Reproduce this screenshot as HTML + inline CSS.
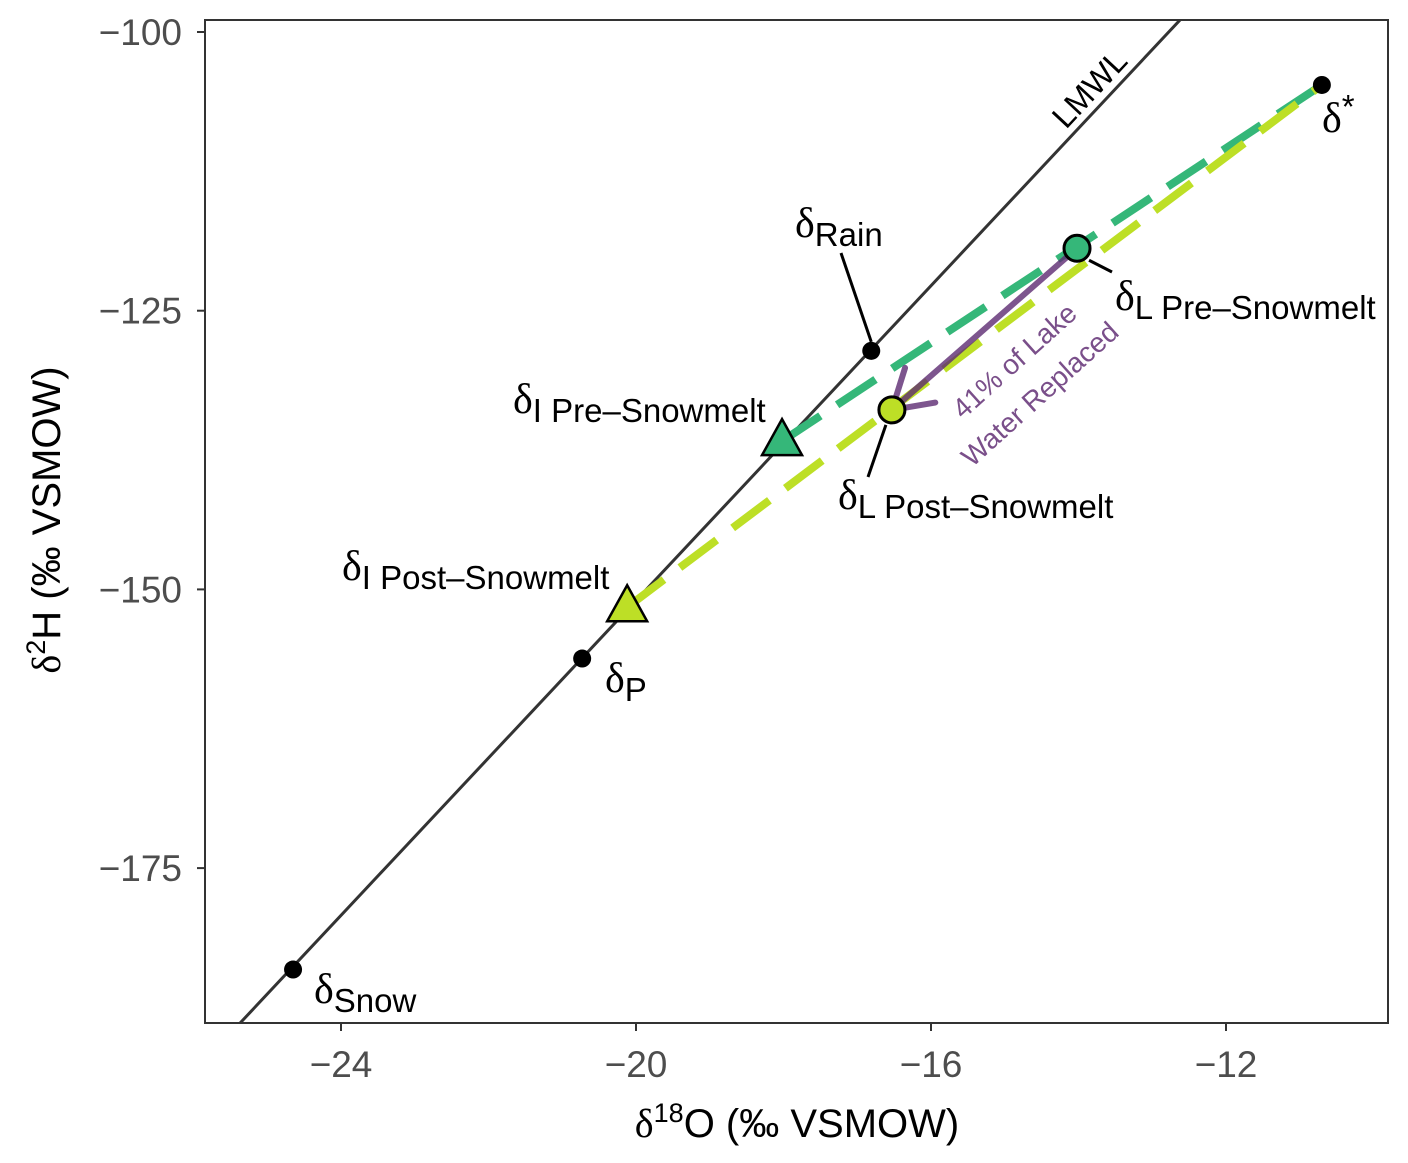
<!DOCTYPE html>
<html><head><meta charset="utf-8"><style>
html,body{margin:0;padding:0;background:#fff}
svg{display:block;font-family:"Liberation Sans",Arial,sans-serif}
.d{font-family:"Liberation Serif",serif}
</style></head><body>
<svg id="chart" width="1408" height="1163" viewBox="0 0 1408 1163">
<defs>
<clipPath id="clip"><rect x="205" y="20" width="1183" height="1003"/></clipPath>
</defs>
<rect x="205" y="20" width="1183" height="1003" fill="#fff" stroke="#333" stroke-width="2"/>
<g id="axes"></g>
<g id="marks" clip-path="url(#clip)"></g>
<g id="labels"></g>
<text x="797" y="1137" font-size="40" text-anchor="middle" fill="#000"><tspan class="d">δ</tspan><tspan font-size="27" dy="-15">18</tspan><tspan dy="15">O (‰ VSMOW)</tspan></text>
<text transform="translate(60,520) rotate(-90)" font-size="40" text-anchor="middle" fill="#000"><tspan class="d">δ</tspan><tspan font-size="27" dy="-15">2</tspan><tspan dy="15">H (‰ VSMOW)</tspan></text>
</svg>
<script>
const xTicks=[-24,-20,-16,-12];
const yTicks=[-100,-125,-150,-175];
const pointNames=["snow","p","rain","star"];
const pointX=[-24.65,-20.73,-16.81,-10.70];
const pointY=[-184.1,-156.2,-128.6,-104.75];
const inflowX=[-18.02,-20.12];
const inflowY=[-136.7,-151.6];
const lakeX=[-14.02,-16.53];
const lakeY=[-119.4,-133.9];
const lmwlX=[-25.5,-12.5];
const lmwlSlope=7.06, lmwlIntercept=-9.8;
const colors=["#35b779","#bddf26"];

const X=v=>341+(v+24)*73.75;
const Y=v=>32-(v+100)*11.148;
const NS="http://www.w3.org/2000/svg";
function mk(tag,attrs,parent){const e=document.createElementNS(NS,tag);for(const k in attrs)e.setAttribute(k,attrs[k]);parent.appendChild(e);return e;}
const axes=document.getElementById('axes'),marks=document.getElementById('marks');

xTicks.forEach(t=>{
  const l=mk('line',{x1:X(t),x2:X(t),y1:1023,y2:1031,stroke:'#333','stroke-width':2},axes);
  
  
  const tx=mk('text',{x:X(t),y:1077,'font-size':37,'text-anchor':'middle',fill:'#4d4d4d'},axes);
  tx.textContent='\u2212'+Math.abs(t);
  
  
});
yTicks.forEach(t=>{
  const l=mk('line',{x1:197,x2:205,y1:Y(t),y2:Y(t),stroke:'#333','stroke-width':2},axes);
  
  
  const tx=mk('text',{x:182,y:Y(t)+13,'font-size':37,'text-anchor':'end',fill:'#4d4d4d'},axes);
  tx.textContent='\u2212'+Math.abs(t);
  
  
});

const lm=mk('line',{x1:X(lmwlX[0]),y1:Y(lmwlSlope*lmwlX[0]+lmwlIntercept),x2:X(lmwlX[1]),y2:Y(lmwlSlope*lmwlX[1]+lmwlIntercept),stroke:'#333','stroke-width':3},marks);



for(let i=0;i<2;i++){
  const d=mk('line',{x1:X(inflowX[i]),y1:Y(inflowY[i]),x2:X(pointX[3]),y2:Y(pointY[3]),stroke:colors[i],'stroke-width':8,'stroke-dasharray':'46 20'},marks);
  
  
}
const ax1=X(lakeX[0]),ay1=Y(lakeY[0]),ax2=X(lakeX[1]),ay2=Y(lakeY[1]);
const ang=Math.atan2(ay2-ay1,ax2-ax1);
const head=(a)=>`M${ax2},${ay2} L${ax2+44*Math.cos(ang+Math.PI+a)},${ay2+44*Math.sin(ang+Math.PI+a)}`;
const ap=mk('path',{d:`M${ax1},${ay1} L${ax2},${ay2} ${head(0.55)} ${head(-0.55)}`,stroke:'#5d2a72','stroke-opacity':0.8,'stroke-width':6,fill:'none','stroke-linecap':'round'},marks);



pointNames.forEach((n,i)=>{
  const c=mk('circle',{cx:X(pointX[i]),cy:Y(pointY[i]),r:9,fill:'#000'},marks);
  
  
});
const lab=document.getElementById('labels');
function leader(x1,y1,x2,y2,name){const l=mk('line',{x1,y1,x2,y2,stroke:'#000','stroke-width':3},lab);}
leader(841,253,X(pointX[2]),Y(pointY[2])-9,'rain-leader');
leader(X(lakeX[0])+12,Y(lakeY[0])+12,1112,272,'lake-pre-leader');
leader(X(lakeX[1])-6,Y(lakeY[1])+15,868,477,'lake-post-leader');

for(let i=0;i<2;i++){
  const cx=X(inflowX[i]),cy=Y(inflowY[i]);
  const t=mk('polygon',{points:`${cx},${cy-22} ${cx-20},${cy+14} ${cx+20},${cy+14}`,fill:colors[i],stroke:'#000','stroke-width':2.5},lab);
  
  
}
for(let i=0;i<2;i++){
  const c=mk('circle',{cx:X(lakeX[i]),cy:Y(lakeY[i]),r:13,fill:colors[i],stroke:'#000','stroke-width':3},lab);
  
  
}
</script>
<svg style="position:absolute;left:0;top:0" width="1408" height="1163">
<g font-family="Liberation Sans, Arial, sans-serif" fill="#000">
<text x="314" y="1003" font-size="42"><tspan font-family="Liberation Serif">δ</tspan><tspan font-size="33" dy="9">Snow</tspan></text>
<text x="605" y="692" font-size="42"><tspan font-family="Liberation Serif">δ</tspan><tspan font-size="33" dy="9">P</tspan></text>
<text x="795" y="237" font-size="42"><tspan font-family="Liberation Serif">δ</tspan><tspan font-size="33" dy="9">Rain</tspan></text>
<text x="1322" y="132" font-size="42"><tspan font-family="Liberation Serif">δ</tspan><tspan font-size="33" dy="-14">*</tspan></text>
<text x="513" y="413" font-size="42"><tspan font-family="Liberation Serif">δ</tspan><tspan font-size="33" dy="9">I Pre–Snowmelt</tspan></text>
<text x="342" y="580" font-size="42"><tspan font-family="Liberation Serif">δ</tspan><tspan font-size="33" dy="9">I Post–Snowmelt</tspan></text>
<text x="1115" y="310" font-size="42"><tspan font-family="Liberation Serif">δ</tspan><tspan font-size="33" dy="9">L Pre–Snowmelt</tspan></text>
<text x="838" y="509" font-size="42"><tspan font-family="Liberation Serif">δ</tspan><tspan font-size="33" dy="9">L Post–Snowmelt</tspan></text>
<text transform="translate(1066,130) rotate(-47)" font-size="32">LMWL</text>
<text transform="translate(963,420) rotate(-42)" font-size="28" fill="#7a4f8a">41% of Lake</text>
<text transform="translate(972,468) rotate(-42)" font-size="28" fill="#7a4f8a">Water Replaced</text>
</g>
</svg>
</body></html>
